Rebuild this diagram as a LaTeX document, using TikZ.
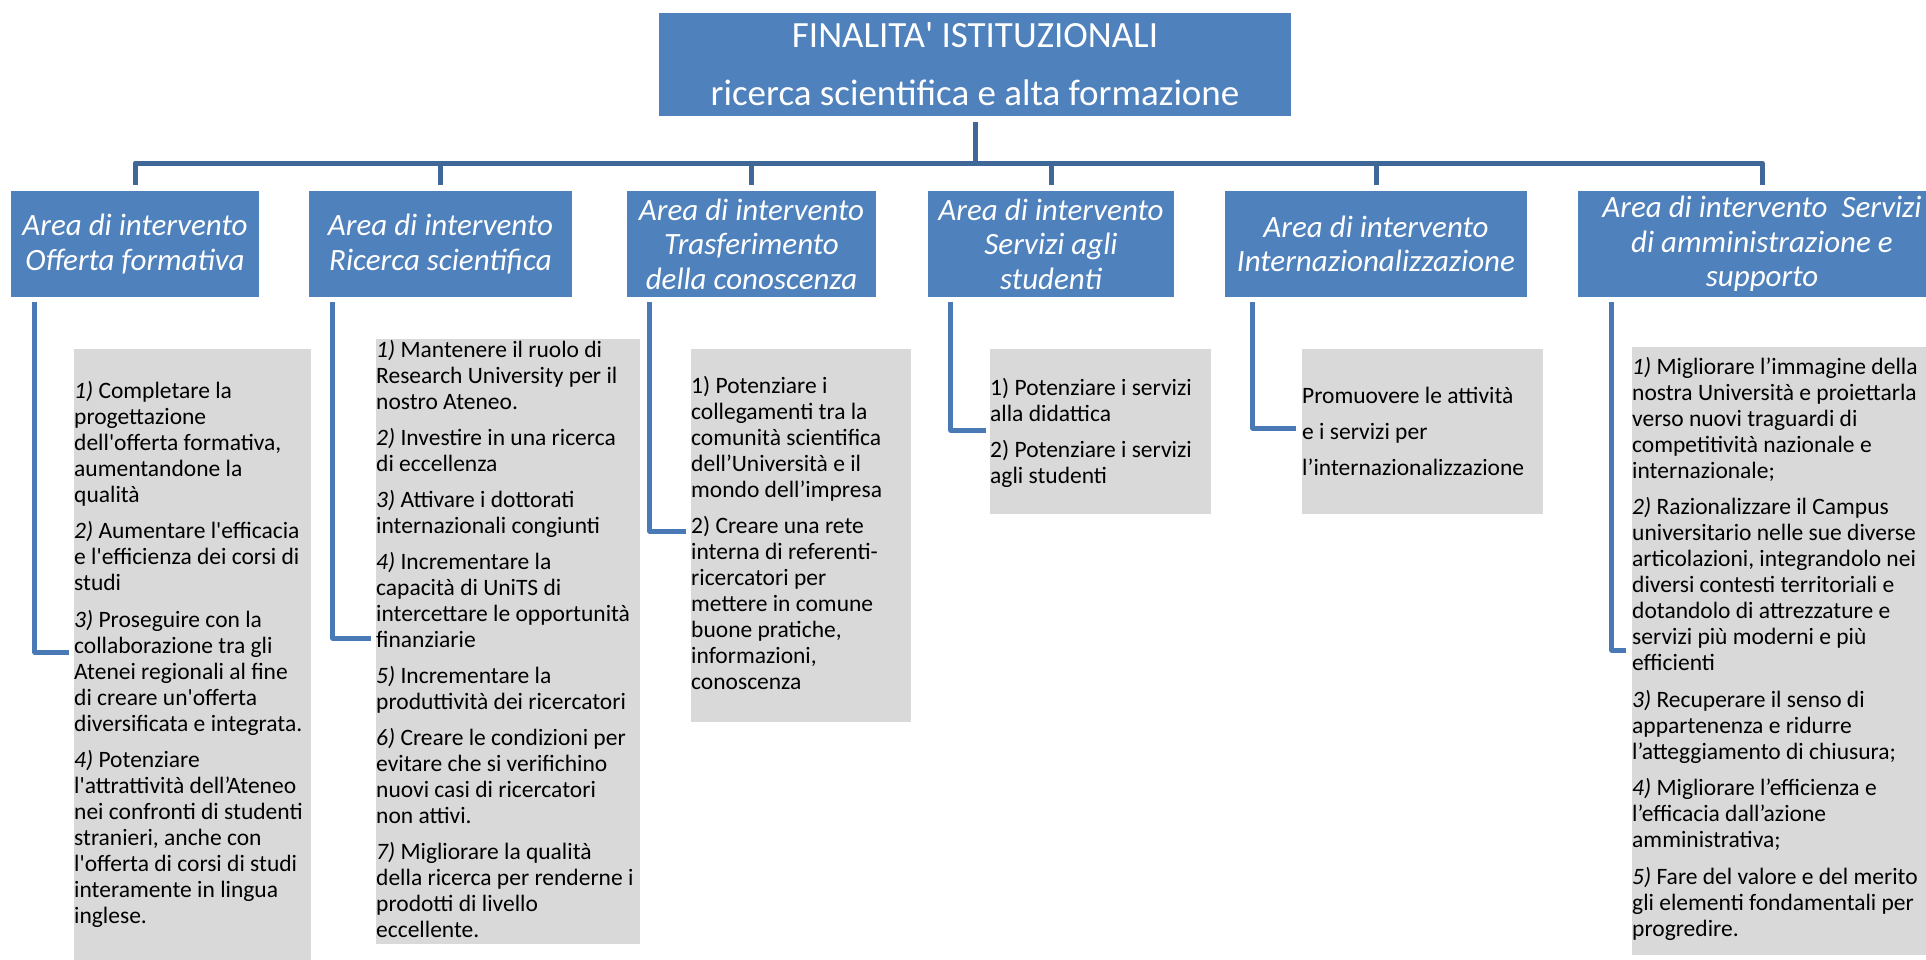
\documentclass[tikz,border=0pt]{standalone}
\usepackage{fontspec}
\setmainfont{Carlito}[Ligatures=TeXOff]
\usetikzlibrary{positioning}

\definecolor{boxblue}{HTML}{4F81BD}
\definecolor{busblue}{HTML}{3F6797}
\definecolor{linkblue}{HTML}{4A7AB5}
\definecolor{itemgray}{HTML}{D9D9D9}

\newcommand{\topfont}{\fontsize{37}{58}\selectfont}
\newcommand{\areafont}{\fontsize{31}{34.5}\selectfont\itshape}
\newcommand{\itemfont}{\fontsize{23.5}{26}\selectfont}
\newcommand{\num}[1]{{\itshape #1)}}
\newcommand{\firstline}{\rule{0pt}{20pt}}

\begin{document}
\begin{tikzpicture}[x=1pt,y=-1pt,line join=round,
    topbox/.style={fill=boxblue,text=white,inner sep=0pt,align=center,font=\topfont},
    area/.style={fill=boxblue,text=white,inner sep=0pt,align=center,minimum height=106pt,font=\areafont},
    detail/.style={fill=itemgray,inner sep=0pt,anchor=north west},
    itemtext/.style={inner sep=0pt,anchor=north west,align=left,font=\itemfont},
    bus/.style={draw=busblue,line width=5pt},
    link/.style={draw=linkblue,line width=5pt}]
  \useasboundingbox (0,0) rectangle (1926,960);
  \clip (0,0) rectangle (1926,960);
  \fill[white] (0,0) rectangle (1926,960);

  % vertice
  \node[topbox,minimum width=632pt,minimum height=103pt] (top) at (975,64.5)
    {FINALITA' ISTITUZIONALI\\ricerca scientifica e alta formazione};

  % aree di intervento
  \node[area,minimum width=248pt] (a1) at (135,244) {Area di intervento\\Offerta formativa};
  \node[area,minimum width=263pt] (a2) at (440.5,244) {Area di intervento\\Ricerca scientifica};
  \node[area,minimum width=249pt] (a3) at (751.5,244) {Area di intervento\\Trasferimento\\della conoscenza};
  \node[area,minimum width=246pt] (a4) at (1051,244) {Area di intervento\\Servizi agli\\studenti};
  \node[area,minimum width=302pt] (a5) at (1376,244) {Area di intervento\\Internazionalizzazione};
  \node[area,minimum width=368pt] (a6) at (1762,244) {Area di intervento~ Servizi\\di amministrazione e\\supporto};

  % obiettivi
  \node[detail,minimum width=237pt,minimum height=613pt] (d1) at (74,349) {};
  \node[detail,minimum width=264pt,minimum height=605pt] (d2) at (376,339) {};
  \node[detail,minimum width=220pt,minimum height=373pt] (d3) at (691,349) {};
  \node[detail,minimum width=221pt,minimum height=165pt] (d4) at (990,349) {};
  \node[detail,minimum width=241pt,minimum height=165pt] (d5) at (1302,349) {};
  \node[detail,minimum width=308pt,minimum height=608pt] (d6) at (1632,347) {};

  \node[itemtext] (t1) at (74,378) {\firstline\num{1} Completare la\\progettazione\\dell'offerta formativa,\\aumentandone la\\qualità\\[10.5pt]
    \num{2} Aumentare l'efficacia\\e l'efficienza dei corsi di\\studi\\[10.5pt]
    \num{3} Proseguire con la\\collaborazione tra gli\\Atenei regionali al fine\\di creare un'offerta\\diversificata e integrata.\\[10.5pt]
    \num{4} Potenziare\\l'attrattività dell’Ateneo\\nei confronti di studenti\\stranieri, anche con\\l'offerta di corsi di studi\\interamente in lingua\\inglese.};
  \node[itemtext] (t2) at (376,337) {\firstline\num{1} Mantenere il ruolo di\\Research University per il\\nostro Ateneo.\\[10pt]
    \num{2} Investire in una ricerca\\di eccellenza\\[10pt]
    \num{3} Attivare i dottorati\\internazionali congiunti\\[10pt]
    \num{4} Incrementare la\\capacità di UniTS di\\intercettare le opportunità\\finanziarie\\[10pt]
    \num{5} Incrementare la\\produttività dei ricercatori\\[10pt]
    \num{6} Creare le condizioni per\\evitare che si verifichino\\nuovi casi di ricercatori\\non attivi.\\[10pt]
    \num{7} Migliorare la qualità\\della ricerca per renderne i\\prodotti di livello\\eccellente.};
  \node[itemtext] (t3) at (691,373) {\firstline 1) Potenziare i\\collegamenti tra la\\comunità scientifica\\dell’Università e il\\mondo dell’impresa\\[10.5pt]
    2) Creare una rete\\interna di referenti-\\ricercatori per\\mettere in comune\\buone pratiche,\\informazioni,\\conoscenza};
  \node[itemtext] (t4) at (990,375) {\firstline 1) Potenziare i servizi\\alla didattica\\[10.5pt]
    2) Potenziare i servizi\\agli studenti};
  \node[itemtext,font=\fontsize{23.5}{36}\selectfont] (t5) at (1302,383)
    {\firstline Promuovere le attività\\e i servizi per\\l’internazionalizzazione};
  \node[itemtext] (t6) at (1632,354) {\firstline\num{1} Migliorare l’immagine della\\nostra Università e proiettarla\\verso nuovi traguardi di\\competitività nazionale e\\internazionale;\\[10.5pt]
    \num{2} Razionalizzare il Campus\\universitario nelle sue diverse\\articolazioni, integrandolo nei\\diversi contesti territoriali e\\dotandolo di attrezzature e\\servizi più moderni e più\\efficienti\\[10.5pt]
    \num{3} Recuperare il senso di\\appartenenza e ridurre\\l’atteggiamento di chiusura;\\[10.5pt]
    \num{4} Migliorare l’efficienza e\\l’efficacia dall’azione\\amministrativa;\\[10.5pt]
    \num{5} Fare del valore e del merito\\gli elementi fondamentali per\\progredire.};

  % collegamenti
  \coordinate (bus) at ([yshift=-47pt]top.south);
  \draw[bus] ([yshift=-6pt]top.south) -- (bus);
  \draw[bus] ([yshift=6pt]a1.north) |- (bus) -| ([yshift=6pt]a6.north);
  \foreach \n in {a2,a3,a4,a5}
    \draw[bus] ([yshift=6pt]\n.north) -- (\n.north |- bus);

  \foreach \n/\dx/\dy/\gap in {1/24/303/5, 2/24/299/5, 3/23/182/5, 4/23/81/4, 5/28/79/6, 6/34/303/6}
    \draw[link] ([xshift=\dx pt,yshift=-5pt]a\n.south west) |- ([xshift=-\gap pt,yshift=-\dy pt]d\n.north west);
\end{tikzpicture}
\end{document}
